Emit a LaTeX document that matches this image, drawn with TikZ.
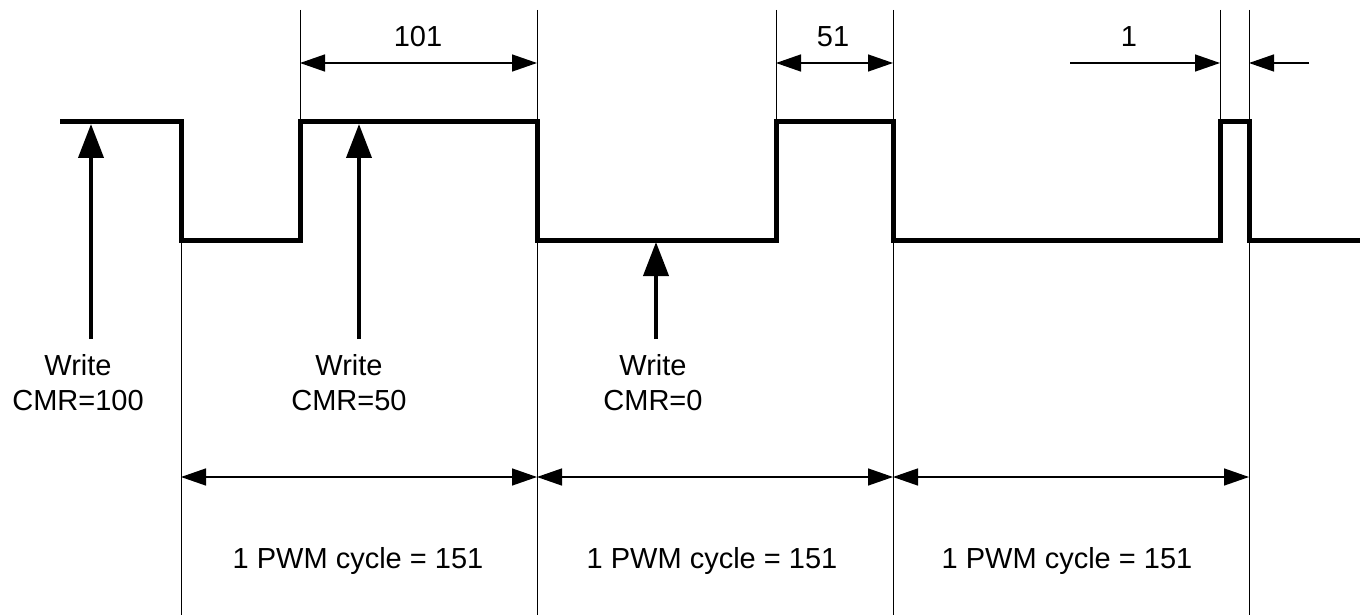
\documentclass[tikz,border=0pt]{standalone}
\usepackage{fontspec}
\setmainfont{Liberation Sans}
\usetikzlibrary{arrows.meta}
\tikzset{
  pwm/.style={line width=2.5pt, line join=miter},
  guide/.style={line width=0.5pt},
  dimarrow/.style={line width=0.7pt, {Triangle[length=12.5pt,width=8.5pt]}-{Triangle[length=12.5pt,width=8.5pt]}},
  halfarrow/.style={line width=0.7pt, -{Triangle[length=12.5pt,width=8.5pt]}},
  writearrow/.style={line width=2pt, -{Triangle[length=17pt,width=12.5pt]}},
  lbl/.style={inner sep=0pt, font=\fontsize{14.5}{17.5}\selectfont},
  writelbl/.style={lbl, align=center},
}
\begin{document}
\begin{tikzpicture}[x=0.5pt,y=0.5pt,yscale=-1,xscale=1]
\useasboundingbox (0,0) rectangle (1360,615);

%Guide Lines [edges of the periods]
\foreach \name/\x/\ya/\yb in {g1/181/240/615, g2/300/10/122, g3/537/10/615, g4/776/10/122, g5/893/10/615, g6/1220/10/122, g7/1249/10/615} {
  \coordinate (\name top) at (\x,\ya);
  \coordinate (\name bot) at (\x,\yb);
  \draw [guide] (\name top) -- (\name bot);
}
\coordinate (dimhi) at (0,63);
\coordinate (dimlo) at (0,477);

%PWM output
\draw [pwm] (60,122) -- (181,122) -- (181,240) -- (300,240) -- (300,122) -- (537,122) -- (537,240) -- (776,240) -- (776,122) -- (893,122) -- (893,240) -- (1220,240) -- (1220,122) -- (1249,122) -- (1249,240) -- (1360,240);

%High time dimensions
\draw [dimarrow] (g2top |- dimhi) -- (g3top |- dimhi);
\node [lbl] (hi101) at (418,37) {101};
\draw [dimarrow] (g4top |- dimhi) -- (g5top |- dimhi);
\node [lbl] (hi51) at (833,37) {51};
\coordinate (onea) at (1070,63);
\coordinate (oneb) at (1309,63);
\draw [halfarrow] (onea) -- (g6top |- dimhi);
\draw [halfarrow] (oneb) -- (g7top |- dimhi);
\node [lbl] (hi1) at (1129,37) {1};

%Write arrows
\node [writelbl] (w100) at (78,383) {Write\\CMR=100};
\node [writelbl] (w50) at (349,383) {Write\\CMR=50};
\node [writelbl] (w0) at (653,383) {Write\\CMR=0};
\coordinate (w100a) at (91,339);
\coordinate (w100b) at (91,124);
\coordinate (w50a) at (359,339);
\coordinate (w50b) at (359,124);
\coordinate (w0a) at (656,339);
\coordinate (w0b) at (656,242);
\draw [writearrow] (w100a) -- (w100b);
\draw [writearrow] (w50a) -- (w50b);
\draw [writearrow] (w0a) -- (w0b);

%PWM cycle dimensions
\draw [dimarrow] (g1bot |- dimlo) -- (g3bot |- dimlo);
\draw [dimarrow] (g3bot |- dimlo) -- (g5bot |- dimlo);
\draw [dimarrow] (g5bot |- dimlo) -- (g7bot |- dimlo);
\node [lbl, anchor=base] (cyc1) at (358,568) {1 PWM cycle = 151};
\node [lbl, anchor=base] (cyc2) at (712,568) {1 PWM cycle = 151};
\node [lbl, anchor=base] (cyc3) at (1067,568) {1 PWM cycle = 151};
\end{tikzpicture}
\end{document}
